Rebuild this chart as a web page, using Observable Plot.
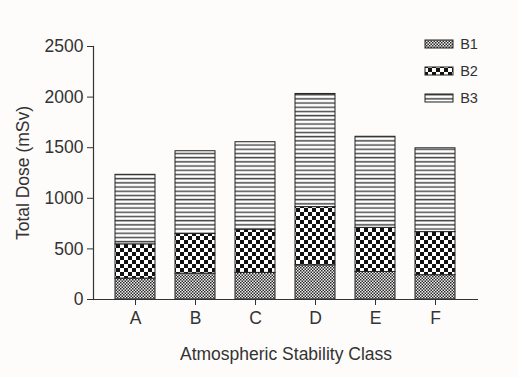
<!DOCTYPE html>
<html><head><meta charset="utf-8">
<script src="https://cdn.jsdelivr.net/npm/d3@7"></script>
<script src="https://cdn.jsdelivr.net/npm/@observablehq/plot@0.6"></script>
<style>body{margin:0;background:#fdfcfa}</style>
</head><body><div id="chart"></div>
<script>
const classes = ["A", "B", "C", "D", "E", "F"];
const seriesNames = ["B1", "B2", "B3"];
const b1 = [207, 256, 263, 338, 272, 240];
const b2 = [338, 391, 427, 575, 436, 426];
const b3 = [687, 818, 864, 1118, 900, 828];
const yTicks = [0, 500, 1000, 1500, 2000, 2500];

const data = [];
[b1, b2, b3].forEach((vals, i) => vals.forEach((v, j) => data.push({cls: classes[j], series: seriesNames[i], value: v})));

const ink = "#333";
const fs = 17.5;
const plot = Plot.plot({
  width: 518, height: 377,
  marginLeft: 93, marginRight: 40, marginTop: 46, marginBottom: 78,
  style: {fontFamily: "'Liberation Sans', Arial, sans-serif", fontSize: fs + "px", color: ink, background: "#fdfcfa"},
  x: {domain: classes, padding: 0.33},
  y: {domain: [0, 2500]},
  color: {domain: seriesNames, range: ["url(#pB1)", "url(#pB2)", "url(#pB3)"]},
  marks: [
    Plot.barY(data, {x: "cls", y: "value", fill: "series", stroke: "#222", strokeWidth: 1}),
    Plot.ruleY([0], {stroke: ink, strokeWidth: 1.2}),
    Plot.frame({anchor: "left", stroke: ink, strokeWidth: 1.2}),
    Plot.axisX({tickSize: 6, tickPadding: 6, stroke: ink, label: "Atmospheric Stability Class", labelAnchor: "center", labelOffset: 60, fontSize: fs}),
    Plot.axisY({ticks: yTicks, tickFormat: d3.format("d"), tickSize: 6, tickPadding: 4, stroke: ink, label: "Total Dose (mSv)", labelAnchor: "center", labelArrow: "none", labelOffset: 77, fontSize: fs})
  ]
});

const svg = d3.select(plot);
const defs = svg.insert("defs", ":first-child");
// B1: fine dense checker
const p1 = defs.append("pattern").attr("id", "pB1").attr("patternUnits", "userSpaceOnUse").attr("width", 3).attr("height", 3);
p1.append("rect").attr("width", 3).attr("height", 3).attr("fill", "#eeeeee");
p1.append("rect").attr("x", 0).attr("y", 0).attr("width", 1.5).attr("height", 1.5).attr("fill", "#2a2a2a");
p1.append("rect").attr("x", 1.5).attr("y", 1.5).attr("width", 1.5).attr("height", 1.5).attr("fill", "#2a2a2a");
// B2: coarse checker
const p2 = defs.append("pattern").attr("id", "pB2").attr("patternUnits", "userSpaceOnUse").attr("width", 8).attr("height", 8);
p2.append("rect").attr("width", 8).attr("height", 8).attr("fill", "#fff");
p2.append("rect").attr("x", 0).attr("y", 0).attr("width", 4).attr("height", 4).attr("fill", "#111");
p2.append("rect").attr("x", 4).attr("y", 4).attr("width", 4).attr("height", 4).attr("fill", "#111");
// B3: horizontal lines
const p3 = defs.append("pattern").attr("id", "pB3").attr("patternUnits", "userSpaceOnUse").attr("width", 8).attr("height", 4.2);
p3.append("rect").attr("width", 8).attr("height", 4.2).attr("fill", "#fff");
p3.append("rect").attr("x", 0).attr("y", 1.5).attr("width", 8).attr("height", 1.5).attr("fill", "#4a4a4a");

// legend
const color = plot.scale("color");
const lg = svg.append("g").attr("font-family", "'Liberation Sans', Arial, sans-serif").attr("font-size", 14.5).attr("fill", ink);
seriesNames.forEach((s, i) => {
  const cy = 44 + i * 27;
  lg.append("rect").attr("x", 425).attr("y", cy - 4).attr("width", 28).attr("height", 8)
    .attr("fill", color.apply(s)).attr("stroke", "#222").attr("stroke-width", 1);
  lg.append("text").attr("x", 469).attr("y", cy).attr("dy", "0.36em").text(s);
});

document.getElementById("chart").appendChild(plot);
</script>
</body></html>
